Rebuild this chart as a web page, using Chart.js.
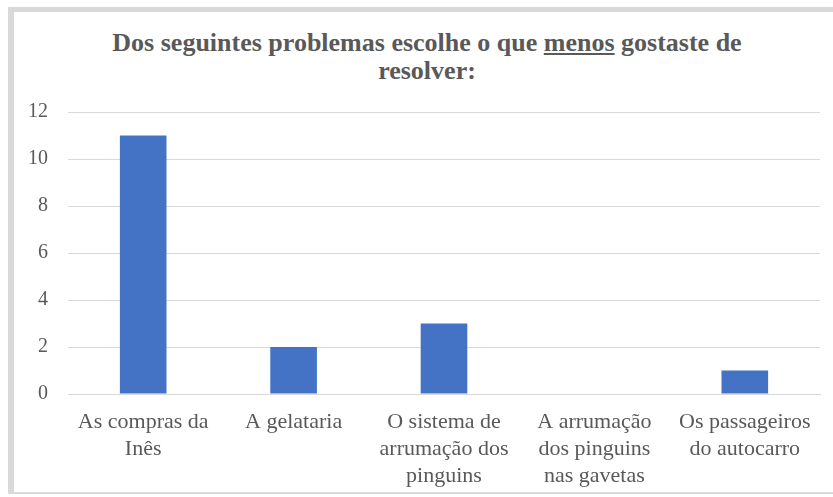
<!DOCTYPE html>
<html>
<head>
<meta charset="utf-8">
<script src="https://cdn.jsdelivr.net/npm/chart.js@4.4.0/dist/chart.umd.min.js"></script>
<style>
  body { margin: 0; background: #fff; }
  #wrap { position: relative; width: 833px; height: 497px; overflow: hidden; }
  #frame {
    position: absolute; left: 8px; top: 7px; width: 840px; height: 480px;
    border-top: 5px solid #d9d9d9; border-left: 6px solid #d9d9d9; border-bottom: 2px solid #d9d9d9;
  }
  #titulo {
    position: absolute; left: 0; top: 29px; width: 854px; text-align: center;
    font-family: "Liberation Serif", "Times New Roman", serif; font-weight: bold;
    font-size: 26px; line-height: 28px; color: #595959;
  }
  #titulo u { text-decoration-thickness: 2px; text-underline-offset: 2px; }
  canvas { position: absolute; left: 0; top: 0; }
</style>
</head>
<body>
<div id="wrap">
  <div id="frame"></div>
  <div id="titulo">Dos seguintes problemas escolhe o que <u>menos</u> gostaste de<br>resolver:</div>
  <canvas id="grafico" width="833" height="497"></canvas>
</div>
<script>
const categorias = [
  ['As compras da', 'Inês'],
  'A gelataria',
  ['O sistema de', 'arrumação dos', 'pinguins'],
  ['A arrumação', 'dos pinguins', 'nas gavetas'],
  ['Os passageiros', 'do autocarro']
];
const votos = [11, 2, 3, 0, 1];
const eixoMax = 12;
const eixoPasso = 2;

const familia = '"Liberation Serif", "Times New Roman", serif';
const cinzento = '#595959';

function desenhar() {
  new Chart(document.getElementById('grafico'), {
    type: 'bar',
    data: {
      labels: categorias,
      datasets: [{
        data: votos,
        backgroundColor: '#4472C4',
        categoryPercentage: 1,
        barPercentage: 0.31
      }]
    },
    options: {
      responsive: false,
      animation: false,
      layout: { padding: { top: 112, right: 13, left: 0, bottom: 0 } },
      plugins: { legend: { display: false }, tooltip: { enabled: false } },
      scales: {
        x: {
          grid: { display: false },
          border: { display: true, color: '#d9d9d9', width: 1 },
          ticks: { color: cinzento, font: { family: familia, size: 22, lineHeight: 1.22 }, padding: 7, maxRotation: 0, autoSkip: false },
          afterFit: (s) => { s.height = 103; }
        },
        y: {
          min: 0,
          max: eixoMax,
          grid: { color: '#d9d9d9', drawTicks: false },
          border: { display: false },
          ticks: { stepSize: eixoPasso, color: cinzento, font: { family: familia, size: 20 }, padding: 20 },
          afterFit: (s) => { s.width = 68; }
        }
      }
    }
  });
}

// as fontes têm de estar carregadas antes de o canvas desenhar o texto
Promise.all([
  document.fonts.load('20px "Liberation Serif"'),
  document.fonts.load('bold 26px "Liberation Serif"')
]).then(desenhar, desenhar);
</script>
</body>
</html>
